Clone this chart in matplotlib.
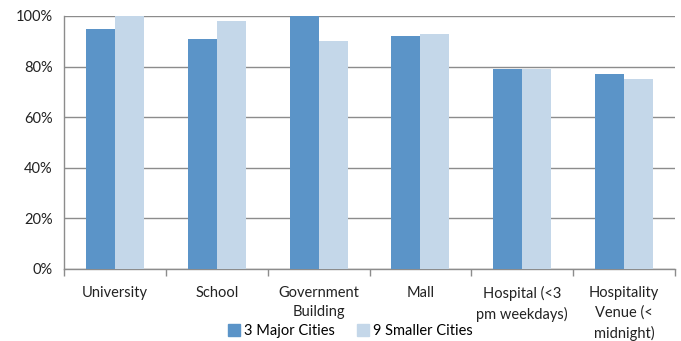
import matplotlib
matplotlib.use("Agg")
import matplotlib.pyplot as plt
import numpy as np
from matplotlib.patches import Patch

plt.rcParams['font.family'] = ['Lato', 'DejaVu Sans']

categories = ["University", "School", "Government\nBuilding", "Mall",
              "Hospital (<3\npm weekdays)", "Hospitality\nVenue (<\nmidnight)"]
major_cities = [95, 91, 100, 92, 79, 77]
smaller_cities = [100, 98, 90, 93, 79, 75]
series_names = ["3 Major Cities", "9 Smaller Cities"]
yticks = [0, 20, 40, 60, 80, 100]

dark = "#5B94C8"
light = "#C4D7E9"
grid = "#8C8C8C"

fig = plt.figure(figsize=(6.81, 3.41), dpi=100)
ax = fig.add_axes([64/681, 1 - 269/341, 611/681, 253/341])

x = np.arange(len(categories))
w = 0.285
ax.bar(x - w/2, major_cities, w, color=dark, zorder=3)
ax.bar(x + w/2, smaller_cities, w, color=light, zorder=3)

ax.set_xlim(-0.5, len(categories) - 0.5)
ax.set_ylim(0, 100)
ax.set_yticks(yticks)
ax.set_yticklabels([f"{v}%" for v in yticks], fontsize=10.5, color="#222222")
ax.yaxis.grid(True, color=grid, linewidth=1.0, zorder=0)
ax.tick_params(axis='y', length=0, pad=8)

ax.set_xticks(x)
ax.set_xticklabels(categories, fontsize=10.5, color="#222222", linespacing=1.5, va="top")
ax.tick_params(axis='x', length=0, pad=12)
# category separators on the x axis
ax.set_xticks(np.arange(len(categories) + 1) - 0.5, minor=True)
ax.tick_params(axis='x', which='minor', length=5, color=grid, width=1.0)

for s in ["top", "right"]:
    ax.spines[s].set_visible(False)
for s in ["left", "bottom"]:
    ax.spines[s].set_color(grid)
    ax.spines[s].set_linewidth(1.0)

handles = [Patch(color=dark), Patch(color=light)]
fig.legend(handles, series_names, loc="lower center", bbox_to_anchor=(0.515, -0.03),
           ncol=2, frameon=False, fontsize=10.5, handlelength=0.8, handleheight=0.8,
           handletextpad=0.3, columnspacing=1.5)

fig.savefig("out.png", dpi=100)
